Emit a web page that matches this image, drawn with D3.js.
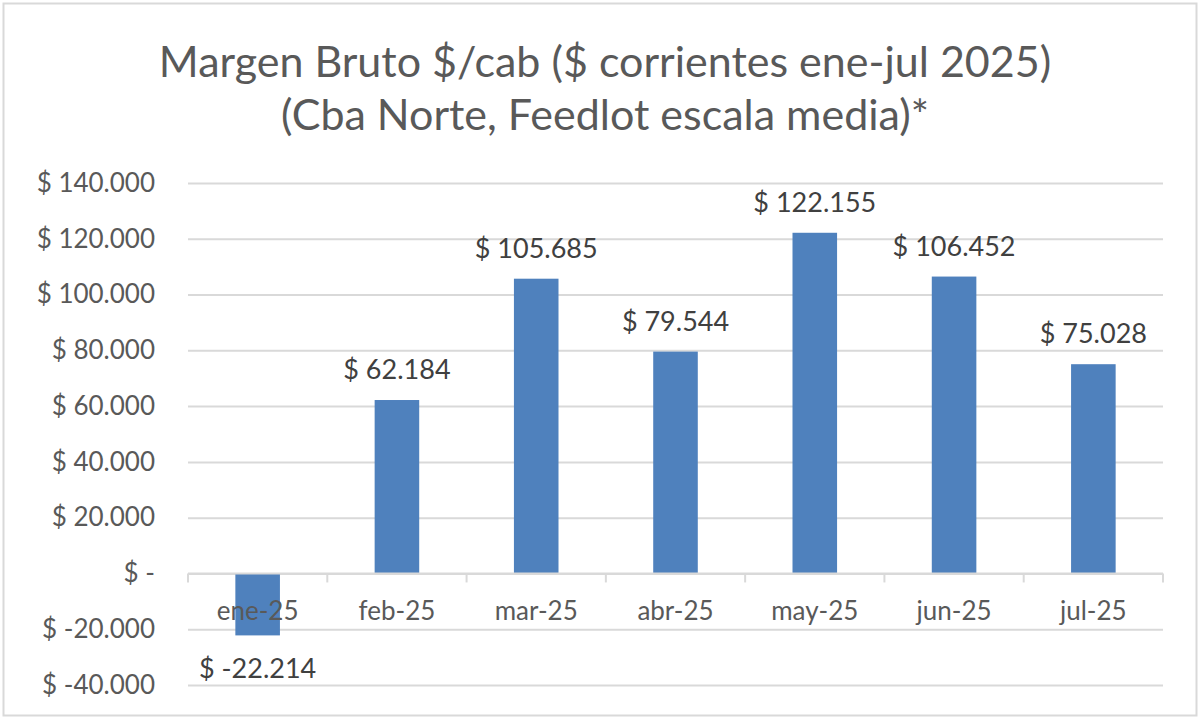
<!DOCTYPE html>
<html>
<head>
  <meta charset="utf-8">
  <script src="https://cdn.jsdelivr.net/npm/d3@7/dist/d3.min.js"></script>
  <style>
    body { margin: 0; background: #fff; font-family: Lato, "Open Sans", sans-serif; }
  </style>
</head>
<body>
  <div id="chart"></div>
  <script>
    // data
    const months = ["ene-25", "feb-25", "mar-25", "abr-25", "may-25", "jun-25", "jul-25"];
    const margen = [-22214, 62184, 105685, 79544, 122155, 106452, 75028];
    const yTicks = [-40000, -20000, 0, 20000, 40000, 60000, 80000, 100000, 120000, 140000];
    const titleLines = ["Margen Bruto $/cab ($ corrientes ene-jul 2025)", "(Cba Norte, Feedlot escala media)*"];

    const width = 1200, height = 720;
    const plot = { left: 188, right: 1163, top: 183, bottom: 685 };

    const loc = d3.formatLocale({ decimal: ",", thousands: ".", grouping: [3], currency: ["$", ""] });
    const num = loc.format(",d");
    const money = v => v === 0 ? "$ -" : (v < 0 ? "$ -" + num(-v) : "$ " + num(v));

    const svg = d3.select("#chart").append("svg")
      .attr("width", width)
      .attr("height", height);

    // chart frame
    svg.append("rect")
      .attr("x", 3.5).attr("y", 3.5)
      .attr("width", 1193).attr("height", 712)
      .attr("fill", "#fff")
      .attr("stroke", "#d9d9d9")
      .attr("stroke-width", 2);

    // title
    svg.append("g").selectAll("text")
      .data(titleLines)
      .join("text")
      .attr("x", 605)
      .attr("y", (d, i) => 77 + i * 53)
      .attr("text-anchor", "middle")
      .attr("fill", "#595959")
      .attr("font-size", 43)
      .text(d => d);

    const x = d3.scaleBand()
      .domain(months)
      .range([plot.left, plot.right])
      .paddingInner(0.68)
      .paddingOuter(0.34);

    const y = d3.scaleLinear()
      .domain([-40000, 140000])
      .range([plot.bottom, plot.top]);

    // gridlines + y labels
    const yAxis = svg.append("g")
      .attr("transform", `translate(${plot.left},0)`)
      .call(d3.axisLeft(y).tickValues(yTicks).tickSize(-(plot.right - plot.left)).tickPadding(33).tickFormat(money));
    yAxis.select(".domain").remove();
    yAxis.selectAll(".tick line").attr("stroke", "#d9d9d9").attr("stroke-width", 2);
    yAxis.selectAll(".tick text")
      .attr("fill", "#595959")
      .attr("font-size", 26)
      .attr("font-family", "Lato, sans-serif");

    // bars
    svg.append("g").selectAll("rect")
      .data(margen)
      .join("rect")
      .attr("x", (d, i) => x(months[i]))
      .attr("width", x.bandwidth())
      .attr("y", d => y(Math.max(0, d)))
      .attr("height", d => Math.abs(y(d) - y(0)))
      .attr("fill", "#4f81bd");

    // category axis on zero line
    const outer = d3.scalePoint().domain(d3.range(months.length + 1)).range([plot.left, plot.right]);
    const xAxis = svg.append("g").attr("transform", `translate(0,${y(0)})`);
    xAxis.append("line")
      .attr("x1", plot.left).attr("x2", plot.right)
      .attr("stroke", "#d9d9d9").attr("stroke-width", 2);
    xAxis.selectAll("line.tk")
      .data(outer.domain())
      .join("line")
      .attr("class", "tk")
      .attr("x1", d => outer(d)).attr("x2", d => outer(d))
      .attr("y1", 0).attr("y2", 9)
      .attr("stroke", "#d9d9d9").attr("stroke-width", 2);
    xAxis.selectAll("text")
      .data(months)
      .join("text")
      .attr("x", d => x(d) + x.bandwidth() / 2)
      .attr("y", 47)
      .attr("text-anchor", "middle")
      .attr("fill", "#595959")
      .attr("font-size", 26)
      .text(d => d);

    // data labels
    svg.append("g").selectAll("text")
      .data(margen)
      .join("text")
      .attr("x", (d, i) => x(months[i]) + x.bandwidth() / 2)
      .attr("y", d => d >= 0 ? y(d) - 21 : y(d) + 43)
      .attr("text-anchor", "middle")
      .attr("fill", "#404040")
      .attr("font-size", 27)
      .text(d => money(d));
  </script>
</body>
</html>
